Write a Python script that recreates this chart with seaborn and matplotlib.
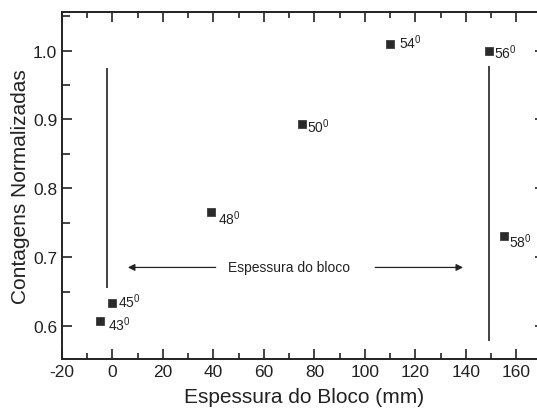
import matplotlib.pyplot as plt
import seaborn as sns
import pandas as pd
from matplotlib.ticker import MultipleLocator

sns.set_theme(style="ticks")
plt.rcParams['font.family'] = ['Liberation Sans', 'DejaVu Sans']
plt.rcParams['mathtext.fontset'] = 'custom'
plt.rcParams['mathtext.rm'] = 'Liberation Sans'
plt.rcParams['mathtext.it'] = 'Liberation Sans'
plt.rcParams['axes.unicode_minus'] = False

# dados
espessura = [-5, 0, 39, 75, 110, 149, 155]
contagens = [0.607, 0.633, 0.765, 0.894, 1.009, 1.000, 0.730]
angulos = [43, 45, 48, 50, 54, 56, 58]

# limites do bloco (linhas verticais) e seta
bordas_x = [-2, 149]
bordas_y0 = [0.655, 0.578]
bordas_y1 = [0.975, 0.978]
seta_y = 0.685
rotulo_bloco = "Espessura do bloco"

# deslocamento dos rótulos (pixels)
desloc = [(8, -9), (6, -4), (7, -12), (5, -8), (9, -4), (5, -7), (5, -11)]

df = pd.DataFrame({'x': espessura, 'y': contagens, 'ang': angulos})

fig = plt.figure(figsize=(5.37, 4.14), dpi=100)
ax = fig.add_axes([0.1155, 0.1304, 0.9, 0.8382])

sns.scatterplot(x='x', y='y', data=df, ax=ax, marker='s', s=32,
                color='#2b2b2b', edgecolor='#2b2b2b', linewidth=0.5, zorder=3)

for xi, yi, a, (dx, dy) in zip(espessura, contagens, angulos, desloc):
    ax.annotate(f"{a}$^0$", (xi, yi), xytext=(dx, dy), textcoords='offset pixels',
                fontsize=10, ha='left', va='baseline', color='#222222')

ax.vlines(bordas_x, bordas_y0, bordas_y1, color='#222222', lw=1.2)

ax.text(70, seta_y, rotulo_bloco, fontsize=10, ha='center', va='center', color='#222222')
ax.annotate('', xy=(5, seta_y), xytext=(42, seta_y),
            arrowprops=dict(arrowstyle='-|>', color='#222222', lw=0.9, mutation_scale=10))
ax.annotate('', xy=(140, seta_y), xytext=(103, seta_y),
            arrowprops=dict(arrowstyle='-|>', color='#222222', lw=0.9, mutation_scale=10))

ax.set_xlim(-20, 171.5)
ax.set_ylim(0.552, 1.056)
ax.xaxis.set_major_locator(MultipleLocator(20))
ax.xaxis.set_minor_locator(MultipleLocator(10))
ax.yaxis.set_major_locator(MultipleLocator(0.1))
ax.yaxis.set_minor_locator(MultipleLocator(0.05))
ax.set_xticks(range(-20, 161, 20))
ax.yaxis.set_major_formatter(plt.FormatStrFormatter('%.1f'))

ax.tick_params(which='both', direction='in', top=True, right=True, color='#222222')
ax.tick_params(which='major', length=7, width=1.2, labelsize=12.5, labelcolor='#222222')
ax.tick_params(which='minor', length=4, width=1.2)
ax.tick_params(axis='y', which='minor', length=6)
for s in ax.spines.values():
    s.set_linewidth(1.4)
    s.set_color('#222222')

ax.set_xlabel('Espessura do Bloco (mm)', fontsize=15, color='#222222', labelpad=6)
ax.set_ylabel('Contagens Normalizadas', fontsize=15, color='#222222', labelpad=2)

fig.savefig('out.png', dpi=100)
